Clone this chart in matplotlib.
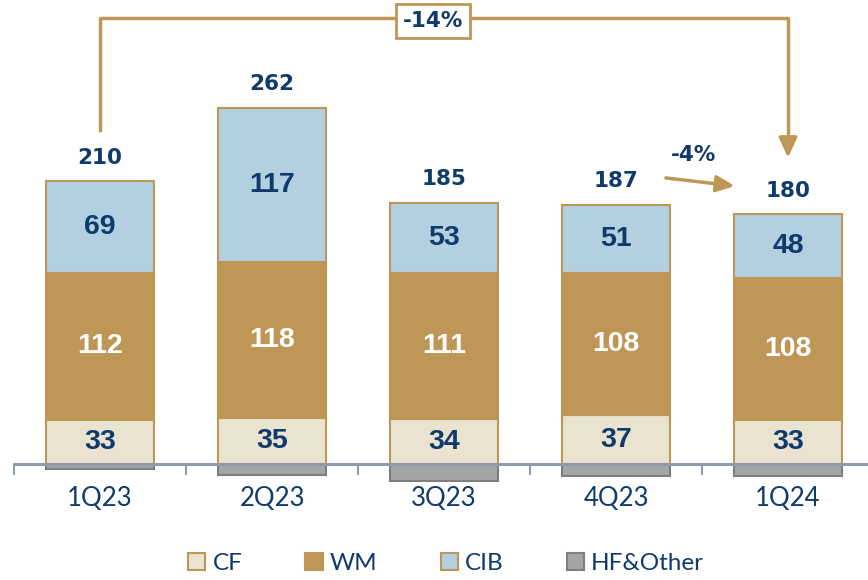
import matplotlib.pyplot as plt
import numpy as np

quarters = ['1Q23', '2Q23', '3Q23', '4Q23', '1Q24']
cf = [33, 35, 34, 37, 33]
wm = [112, 118, 111, 108, 108]
cib = [69, 117, 53, 51, 48]
hf_other = [-4, -8, -13, -9, -9]
totals = [210, 262, 185, 187, 180]

navy = '#0F3A6C'
gold = '#BE9655'
c_cf = '#E9E3D0'
c_cib = '#B3D0E1'
c_hf = '#A5A5A5'
axis_col = '#8E9BB0'

fig = plt.figure(figsize=(8.68, 5.8), dpi=100)
ax = fig.add_axes([14 / 868, 0, 1 - 14 / 868, 1])
x = np.arange(len(quarters))
w = 0.63

cf_a = np.array(cf)
wm_a = np.array(wm)
cib_a = np.array(cib)

ax.bar(x, cf_a, w, color=c_cf, edgecolor=gold, linewidth=1.5, label='CF', zorder=2)
ax.bar(x, wm_a, w, bottom=cf_a, color=gold, edgecolor=gold, linewidth=1.5, label='WM', zorder=2)
ax.bar(x, cib_a, w, bottom=cf_a + wm_a, color=c_cib, edgecolor=gold, linewidth=1.5, label='CIB', zorder=2)
ax.bar(x, hf_other, w, color=c_hf, edgecolor='#7F7F7F', linewidth=1.5, label='HF&Other', zorder=2)

seg_font = dict(family='Liberation Sans', fontsize=20.5, fontweight='bold',
                ha='center', va='center', zorder=5)
for i in x:
    ax.text(i, cf[i] / 2, str(cf[i]), color=navy, **seg_font)
    ax.text(i, cf[i] + wm[i] / 2, str(wm[i]), color='white', **seg_font)
    ax.text(i, cf[i] + wm[i] + cib[i] / 2, str(cib[i]), color=navy, **seg_font)
    top = cf[i] + wm[i] + cib[i]
    ax.text(i, top + 18, str(totals[i]), family='DejaVu Sans', fontsize=15.5, fontweight='bold',
            color=navy, ha='center', va='center')

# baseline axis
ax.axhline(0, color=axis_col, linewidth=2, zorder=3)
for s in ['top', 'right', 'left']:
    ax.spines[s].set_visible(False)
ax.spines['bottom'].set_position(('data', 0))
ax.spines['bottom'].set_color(axis_col)
ax.spines['bottom'].set_linewidth(2)
ax.set_xticks(x)
ax.set_xticklabels(quarters, family='Lato', fontsize=18.5, color=navy)
ax.set_xticks(np.arange(-0.5, len(quarters) + 0.5, 1), minor=True)
ax.tick_params(axis='x', which='major', length=0, pad=16)
ax.tick_params(axis='x', which='minor', length=8, width=1.5, color=axis_col)
ax.set_yticks([])
ax.set_xlim(-0.5, 4.465)
ax.set_ylim(-87.9, 351.5)

# -14% bracket
ax.plot([0, 0, 4, 4], [253, 338, 338, 245], color=gold, linewidth=2.5, zorder=4)
ax.annotate('', xy=(4, 232), xytext=(4, 246),
            arrowprops=dict(arrowstyle='-|>,head_width=0.55,head_length=1.2', color=gold, lw=2.5,
                            shrinkA=0, shrinkB=0), zorder=4)
ax.text(1.936, 335.6, '-14%', family='DejaVu Sans', fontsize=15.5, fontweight='bold', color=navy,
        ha='center', va='center', zorder=6,
        bbox=dict(boxstyle='square,pad=0.33', facecolor='white', edgecolor=gold, linewidth=2))

# -4% arrow
ax.annotate('', xy=(3.69, 210.6), xytext=(3.29, 216.7),
            arrowprops=dict(arrowstyle='-|>,head_width=0.5,head_length=1.1', color=gold, lw=2.5,
                            shrinkA=0, shrinkB=0))
ax.text(3.45, 234, '-4%', family='DejaVu Sans', fontsize=15.5, fontweight='bold', color=navy,
        ha='center', va='center')

fig.legend(loc='lower center', bbox_to_anchor=(0.514, -0.028), ncol=4, frameon=False,
           prop=dict(family='Lato', size=17.5), labelcolor=navy, handlelength=0.7, handleheight=0.7,
           handletextpad=0.3, columnspacing=2.6)

fig.savefig('out.png', dpi=100)
